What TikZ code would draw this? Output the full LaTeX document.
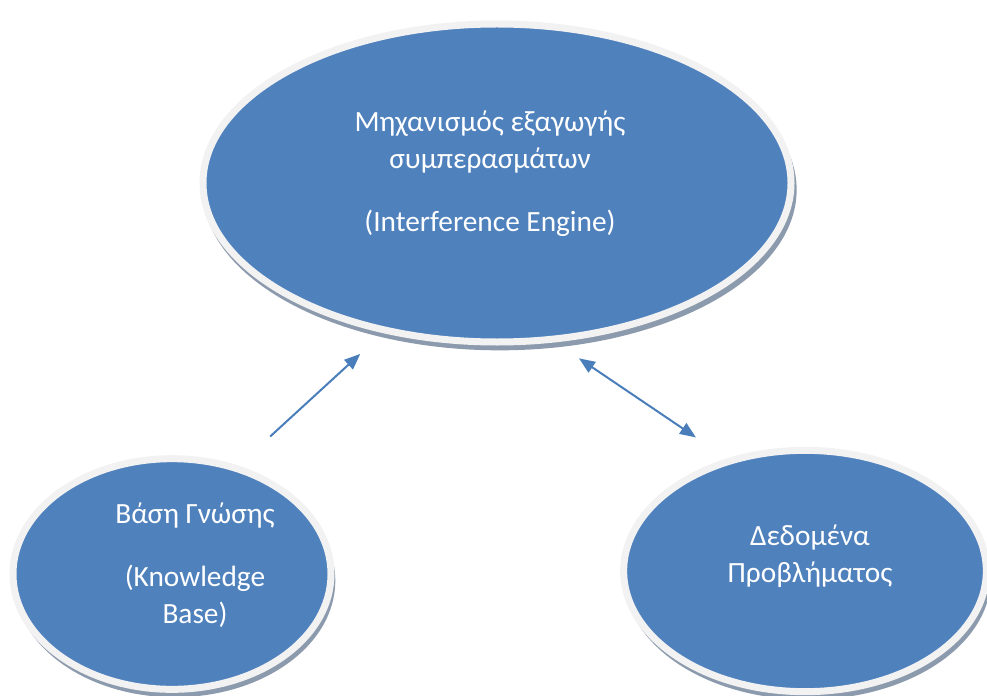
\documentclass[tikz,border=0pt]{standalone}
\usepackage{fontspec}
\setmainfont{Carlito}
\usetikzlibrary{shapes.geometric,arrows.meta,shadows}
\definecolor{nodeblue}{RGB}{79,129,189}
\definecolor{rimgray}{RGB}{242,242,242}
\definecolor{shadowgray}{RGB}{140,154,174}
\definecolor{arrowblue}{RGB}{74,126,187}
\begin{document}
\begin{tikzpicture}[x=0.75pt, y=-0.75pt, >={Triangle[length=12pt,width=9.5pt]},
  bubble/.style={ellipse, draw=rimgray, line width=5.25pt, fill=nodeblue, outer sep=0pt, inner sep=0pt,
    drop shadow={shadow xshift=2pt, shadow yshift=-5pt, shadow scale=1.01, fill=shadowgray, opacity=1}},
  bubbletext/.style={text=white, align=center, font=\fontsize{22}{27.5}\selectfont},
  link/.style={draw=arrowblue, line width=1.5pt}]
\useasboundingbox (0,0) rectangle (987,695);
%
\node[bubble, minimum width=441pt, minimum height=238.5pt] (engine) at (497,183) {};
\node[bubble, minimum width=238.5pt, minimum height=173pt] (kbase) at (172,574) {};
\node[bubble, minimum width=272pt, minimum height=181pt] (pdata) at (805,571) {};
%
\node[bubbletext] (enginetext) at (490,174) {Μηχανισμός εξαγωγής\\συμπερασμάτων\\[19.75pt](Interference Engine)};
\node[bubbletext] (kbasetext) at (195,565) {Βάση Γνώσης\\[19.75pt](Knowledge\\Base)};
\node[bubbletext] (pdatatext) at (810,556) {Δεδομένα\\Προβλήματος};
%
\draw[link, ->, shorten <=35.25pt, shorten >=26.25pt] (kbase.59) -- (engine.233);
\draw[link, <->, shorten <=25.5pt, shorten >=31.5pt] (engine.289) -- (pdata.124);
\end{tikzpicture}
\end{document}
